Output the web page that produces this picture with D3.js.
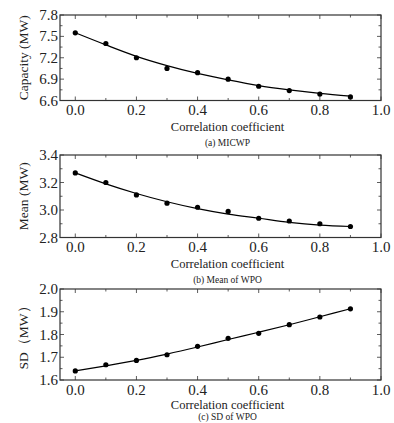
<!DOCTYPE html>
<html><head><meta charset="utf-8">
<script src="https://cdn.jsdelivr.net/npm/d3@7"></script>
<style>body{margin:0;background:#fff}svg{display:block}</style>
</head><body><svg id="c" width="394" height="423" font-family="'Liberation Serif','DejaVu Serif','Times New Roman',serif"></svg>
<script>
const xValues = [0.0,0.1,0.2,0.3,0.4,0.5,0.6,0.7,0.8,0.9];
const xTicks = [0.0,0.2,0.4,0.6,0.8,1.0];
const capacityPoints = [7.55,7.40,7.20,7.05,6.99,6.90,6.80,6.74,6.69,6.65];
const capacityFit = [7.55,7.38,7.22,7.09,6.98,6.89,6.81,6.75,6.70,6.66];
const meanPoints = [3.27,3.20,3.11,3.05,3.02,2.99,2.94,2.92,2.90,2.88];
const meanFit = [3.27,3.19,3.12,3.06,3.01,2.97,2.94,2.91,2.89,2.88];
const sdPoints = [1.640,1.667,1.686,1.711,1.748,1.783,1.805,1.843,1.877,1.913];
const sdFit = [1.640,1.662,1.686,1.714,1.745,1.778,1.810,1.843,1.878,1.913];
const capacityTicks = [6.6,6.9,7.2,7.5,7.8];
const meanTicks = [2.8,3.0,3.2,3.4];
const sdTicks = [1.6,1.7,1.8,1.9,2.0];

const panels = [
  {top:15, bottom:100.5, yDomain:[6.6,7.8], ticks:capacityTicks, minor:0.15, pts:capacityPoints, fit:capacityFit, ylabel:"Capacity (MW)", caption:"(a) MICWP", labY:30.5, capY:45},
  {top:155, bottom:237.5, yDomain:[2.8,3.4], ticks:meanTicks, minor:0.1, pts:meanPoints, fit:meanFit, ylabel:"Mean (MW)", caption:"(b) Mean of WPO", labY:30.5, capY:45},
  {top:289, bottom:380, yDomain:[1.6,2.0], ticks:sdTicks, minor:0.05, pts:sdPoints, fit:sdFit, ylabel:"SD（MW）", caption:"(c) SD of WPO", labY:29.2, capY:40.4}
];
const left = 60, right = 381;
const svg = d3.select("#c");
const x = d3.scaleLinear().domain([-0.05,1.0]).range([left,right]);
const xMinor = d3.range(0,1.0001,0.1).map(v=>+v.toFixed(2));
const axisColor = "#333";
const txt = "#222";

panels.forEach(p=>{
  const y = d3.scaleLinear().domain(p.yDomain).range([p.bottom,p.top]);
  const g = svg.append("g");
  const yMinor = d3.range(p.yDomain[0], p.yDomain[1]+1e-9, p.minor).map(v=>+v.toFixed(3));
  const tickLen = 4, minorLen = 2.5;
  xMinor.forEach(v=>{
    const isMajor = Math.round(v*10)%2===0;
    const L = isMajor?tickLen:minorLen;
    g.append("line").attr("x1",x(v)).attr("x2",x(v)).attr("y1",p.bottom).attr("y2",p.bottom-L).attr("stroke",axisColor).attr("stroke-width",0.8);
    g.append("line").attr("x1",x(v)).attr("x2",x(v)).attr("y1",p.top).attr("y2",p.top+L).attr("stroke",axisColor).attr("stroke-width",0.8);
  });
  yMinor.forEach((v,i)=>{
    const L = (i%2===0)?tickLen:minorLen;
    g.append("line").attr("x1",left).attr("x2",left+L).attr("y1",y(v)).attr("y2",y(v)).attr("stroke",axisColor).attr("stroke-width",0.8);
    g.append("line").attr("x1",right).attr("x2",right-L).attr("y1",y(v)).attr("y2",y(v)).attr("stroke",axisColor).attr("stroke-width",0.8);
  });
  g.append("rect").attr("x",left).attr("y",p.top).attr("width",right-left).attr("height",p.bottom-p.top)
    .attr("fill","none").attr("stroke",axisColor).attr("stroke-width",1.2);
  xTicks.forEach(v=>{
    g.append("text").attr("x",x(v)).attr("y",p.bottom+14.5).attr("text-anchor","middle").attr("font-size",15).attr("fill",txt).text(d3.format(".1f")(v));
  });
  p.ticks.forEach(v=>{
    g.append("text").attr("x",left-2).attr("y",y(v)+5).attr("text-anchor","end").attr("font-size",15).attr("fill",txt).text(d3.format(".1f")(v));
  });
  g.append("text").attr("x",(left+right)/2+7).attr("y",p.bottom+p.labY).attr("text-anchor","middle").attr("font-size",12.5).attr("fill",txt).text("Correlation coefficient");
  g.append("text").attr("x",(left+right)/2+7).attr("y",p.bottom+p.capY).attr("text-anchor","middle").attr("font-size",9.5).attr("fill",txt).text(p.caption);
  g.append("text").attr("transform",`translate(28,${(p.top+p.bottom)/2}) rotate(-90)`).attr("text-anchor","middle").attr("font-size",13.5).attr("fill",txt).text(p.ylabel);
  const line = d3.line().x((d,i)=>x(xValues[i])).y(d=>y(d)).curve(d3.curveMonotoneX);
  g.append("path").attr("d",line(p.fit)).attr("fill","none").attr("stroke","#000").attr("stroke-width",1.2);
  g.selectAll("circle.pt").data(p.pts).enter().append("circle").attr("cx",(d,i)=>x(xValues[i])).attr("cy",d=>y(d)).attr("r",2.6).attr("fill","#000");
});
</script></body></html>
